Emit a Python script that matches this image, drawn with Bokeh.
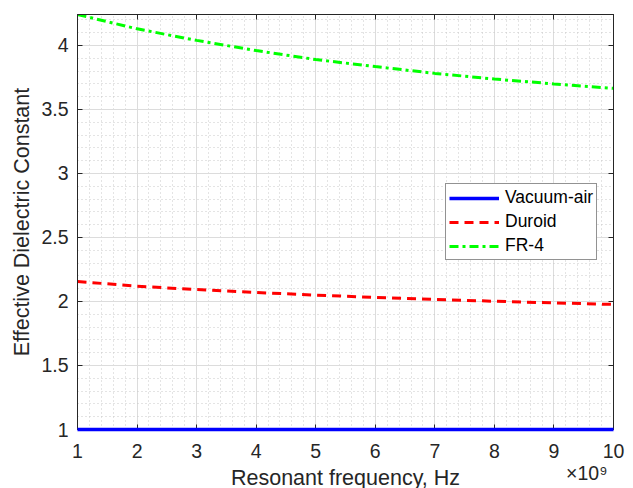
from bokeh.plotting import figure
from bokeh.models import (Range1d, LinearAxis, Legend, LegendItem, Title,
                          SingleIntervalTicker)
from bokeh.embed import file_html
from bokeh.resources import INLINE

# Resonant frequency (in units of 1e9 Hz)
freq = [1, 2, 3, 4, 5, 6, 7, 8, 9, 10]
vacuum_air = [1.0, 1.0, 1.0, 1.0, 1.0, 1.0, 1.0, 1.0, 1.0, 1.0]
duroid = [2.156, 2.12, 2.093, 2.07, 2.05, 2.032, 2.016, 2.002, 1.989, 1.977]
fr4 = [4.242, 4.13, 4.04, 3.96, 3.89, 3.835, 3.782, 3.738, 3.70, 3.665]

FONT = "Liberation Sans"
TXT = "#262626"

p = figure(width=633, height=488, output_backend="svg", toolbar_location=None,
           x_range=Range1d(1, 10), y_range=Range1d(1, 4.242),
           min_border_left=77, min_border_right=20, min_border_top=14,
           min_border_bottom=59)
p.background_fill_color = "white"
p.border_fill_color = "white"
p.outline_line_color = "#262626"
p.outline_line_width = 1

for g in (p.xgrid, p.ygrid):
    g.grid_line_color = "#dcdcdc"
    g.grid_line_width = 1
    g.minor_grid_line_color = "#c8c8c8"
    g.minor_grid_line_dash = "1 3"
    g.minor_grid_line_width = 1

p.xaxis.ticker = SingleIntervalTicker(interval=1, num_minor_ticks=5)
p.yaxis.ticker = SingleIntervalTicker(interval=0.5, num_minor_ticks=5)

for ax in (p.xaxis[0], p.yaxis[0]):
    ax.major_tick_in = 5
    ax.major_tick_out = 0
    ax.minor_tick_in = 0
    ax.minor_tick_out = 0
    ax.axis_line_color = "#262626"
    ax.major_tick_line_color = "#262626"
    ax.major_label_text_font = FONT
    ax.major_label_text_font_size = "19.5px"
    ax.major_label_text_color = TXT
    ax.axis_label_text_font = FONT
    ax.axis_label_text_font_size = "21.5px"
    ax.axis_label_text_font_style = "normal"
    ax.axis_label_text_color = TXT

p.yaxis.axis_label = "Effective Dielectric Constant"
p.xaxis.major_label_standoff = 14
p.yaxis.major_label_standoff = 9
p.yaxis.axis_label_standoff = 4

# mirror ticks on top / right
top = LinearAxis(ticker=SingleIntervalTicker(interval=1, num_minor_ticks=5),
                 major_label_text_font_size="0px", major_tick_in=5, major_tick_out=0,
                 minor_tick_in=0, minor_tick_out=0, axis_line_color="#262626",
                 major_tick_line_color="#262626")
right = LinearAxis(ticker=SingleIntervalTicker(interval=0.5, num_minor_ticks=5),
                   major_label_text_font_size="0px", major_tick_in=5, major_tick_out=0,
                   minor_tick_in=0, minor_tick_out=0, axis_line_color="#262626",
                   major_tick_line_color="#262626")
p.add_layout(top, "above")
p.add_layout(right, "right")

# x-axis exponent and label as titles below the axis
scale_title = Title(text="×10⁹", align="right", offset=6, vertical_align="top",
                    standoff=2, text_font=FONT, text_font_size="19.5px",
                    text_font_style="normal", text_color=TXT)
xlabel_title = Title(text="Resonant frequency, Hz", align="center", vertical_align="top",
                     standoff=-42, text_font=FONT, text_font_size="21.5px",
                     text_font_style="normal", text_color=TXT)
p.add_layout(scale_title, "below")
p.add_layout(xlabel_title, "below")

r1 = p.line(freq, vacuum_air, line_color="#0000ff", line_width=3.5, level="annotation")
r2 = p.line(freq, duroid, line_color="#ff0000", line_width=3, line_dash="9 6")
r3 = p.line(freq, fr4, line_color="#00ff00", line_width=3, line_dash="9 4 3 4")

legend = Legend(items=[LegendItem(label="Vacuum-air", renderers=[r1]),
                       LegendItem(label="Duroid", renderers=[r2]),
                       LegendItem(label="FR-4", renderers=[r3])],
                location=(368, 169))
legend.label_text_font = FONT
legend.label_text_font_size = "17.5px"
legend.label_text_color = "black"
legend.glyph_width = 50
legend.glyph_height = 20
legend.label_standoff = 6
legend.spacing = 3
legend.padding = 3
legend.margin = 0
legend.border_line_color = "#262626"
legend.border_line_width = 1
legend.background_fill_alpha = 1
p.add_layout(legend, "center")

open("out.html", "w").write(file_html(p, INLINE))
